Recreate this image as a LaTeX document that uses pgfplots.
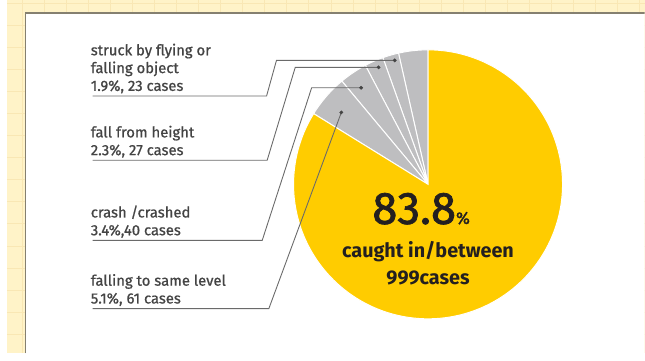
\documentclass[border=0pt]{standalone}
\usepackage{fontspec}
\setmainfont{Fira Sans}
\newfontfamily\lblfont[RawFeature={embolden=0.8}]{Fira Sans}
\newfontfamily\bigfont[RawFeature={embolden=1.6}]{Fira Sans}
\usepackage{pgfplots}
\usepackage{pgfplotstable}
\pgfplotsset{compat=1.18}
\definecolor{bgc}{HTML}{FFF3C8}
\definecolor{gridc}{HTML}{F9E7B4}
\definecolor{borderc}{HTML}{858070}
\definecolor{pieyellow}{HTML}{FFCC00}
\definecolor{piegrey}{HTML}{BEBEC0}
\definecolor{leaderc}{HTML}{6A6A6A}
\definecolor{labelc}{HTML}{444444}
\definecolor{darkc}{HTML}{231F20}

\pgfplotstableread{
cause cases
other 42
struck 23
fall 27
crash 40
same 61
caught 999
}\piedata

\begin{document}
\begin{tikzpicture}[
  lbl/.style={anchor=base west, inner sep=0pt, outer sep=0pt, text=labelc, font=\lblfont\fontsize{15}{18}\selectfont},
  ctr/.style={anchor=base, inner sep=0pt, outer sep=0pt, text=darkc}]
\pgfplotstablegetelem{0}{cases}\of\piedata\edef\nA{\pgfplotsretval}
\pgfplotstablegetelem{1}{cases}\of\piedata\edef\nB{\pgfplotsretval}
\pgfplotstablegetelem{2}{cases}\of\piedata\edef\nC{\pgfplotsretval}
\pgfplotstablegetelem{3}{cases}\of\piedata\edef\nD{\pgfplotsretval}
\pgfplotstablegetelem{4}{cases}\of\piedata\edef\nE{\pgfplotsretval}
\pgfplotstablegetelem{5}{cases}\of\piedata\edef\nF{\pgfplotsretval}
\pgfmathsetmacro{\tot}{\nA+\nB+\nC+\nD+\nE+\nF}
\pgfmathsetmacro{\aA}{90}
\pgfmathsetmacro{\aB}{\aA+360*(\nA/\tot)}
\pgfmathsetmacro{\aC}{\aB+360*(\nB/\tot)}
\pgfmathsetmacro{\aD}{\aC+360*(\nC/\tot)}
\pgfmathsetmacro{\aE}{\aD+360*(\nD/\tot)}
\pgfmathsetmacro{\aF}{\aE+360*(\nE/\tot)}
\pgfmathsetmacro{\aG}{\aF+360*(\nF/\tot)}
\begin{axis}[
  scale only axis, width=645pt, height=357pt,
  xmin=0, xmax=645, ymin=0, ymax=357, y dir=reverse,
  axis background/.style={fill=bgc},
  axis line style={draw=none},
  major tick length=0pt,
  xtick={15.6,37.9,...,645}, ytick={3,25.3,...,357},
  xticklabels={}, yticklabels={},
  grid=major, grid style={draw=gridc, line width=0.8pt},
  clip=true,
]
% white panel
\addplot[fill=white, draw=none] coordinates {(19,13) (645,13) (645,357) (19,357)} -- cycle;
\addplot[draw=borderc, line width=1.6pt] coordinates {(19,357) (19,13) (645,13)};
% pie slices
\addplot[fill=piegrey, draw=white, line width=1pt, domain=\aA:\aB, samples=20, variable=\t] ({426+136*cos(\t)},{186-136*sin(\t)}) -- (axis cs:426,186) -- cycle;
\addplot[fill=piegrey, draw=white, line width=1pt, domain=\aB:\aC, samples=20, variable=\t] ({426+136*cos(\t)},{186-136*sin(\t)}) -- (axis cs:426,186) -- cycle;
\addplot[fill=piegrey, draw=white, line width=1pt, domain=\aC:\aD, samples=20, variable=\t] ({426+136*cos(\t)},{186-136*sin(\t)}) -- (axis cs:426,186) -- cycle;
\addplot[fill=piegrey, draw=white, line width=1pt, domain=\aD:\aE, samples=20, variable=\t] ({426+136*cos(\t)},{186-136*sin(\t)}) -- (axis cs:426,186) -- cycle;
\addplot[fill=piegrey, draw=white, line width=1pt, domain=\aE:\aF, samples=30, variable=\t] ({426+136*cos(\t)},{186-136*sin(\t)}) -- (axis cs:426,186) -- cycle;
\addplot[fill=pieyellow, draw=white, line width=1pt, domain=\aF:\aG, samples=200, variable=\t] ({426+136*cos(\t)},{186-136*sin(\t)}) -- (axis cs:426,186) -- cycle;
% leaders
\addplot[leaderc, line width=0.9pt, mark=none] coordinates {(86.7,96.7) (262.7,96.7) (272.7,60.7) (392.3,60.7)};
\addplot[leaderc, line width=0.9pt, mark=none] coordinates {(86.7,161.7) (263.3,161.7) (291.7,67.7) (376,67.7)};
\addplot[leaderc, line width=0.9pt, mark=none] coordinates {(86.7,242.7) (258.3,242.7) (308.3,88.3) (358.3,88.3)};
\addplot[leaderc, line width=0.9pt, mark=none] coordinates {(86.7,311.7) (265,311.7) (338.3,113.3)};
\addplot[only marks, mark=*, mark size=1.7pt, color=labelc] coordinates {(392.3,60.7) (376,67.7) (358.3,88.3) (338.3,113.3)};
% labels
\node[lbl] at (axis cs:85,55.5) {struck by flying or};
\node[lbl] at (axis cs:85,73.5) {falling object};
\node[lbl] at (axis cs:85,91.5) {1.9\%, 23 cases};
\node[lbl] at (axis cs:85,138.5) {fall from height};
\node[lbl] at (axis cs:85,156.5) {2.3\%, 27 cases};
\node[lbl] at (axis cs:85,219.5) {crash /crashed};
\node[lbl] at (axis cs:85,237.5) {3.4\%,40 cases};
\node[lbl] at (axis cs:85,288.5) {falling to same level};
\node[lbl] at (axis cs:85,306.5) {5.1\%, 61 cases};
\node[ctr] at (axis cs:419,226) {\bigfont\fontsize{46}{46}\selectfont 83.8{\fontsize{17}{17}\selectfont\%}};
\node[ctr, font=\bfseries\fontsize{20}{24}\selectfont] at (axis cs:426,260) {caught in/between};
\node[ctr, font=\bfseries\fontsize{20}{24}\selectfont] at (axis cs:426,287) {999cases};
\end{axis}
\end{tikzpicture}
\end{document}
